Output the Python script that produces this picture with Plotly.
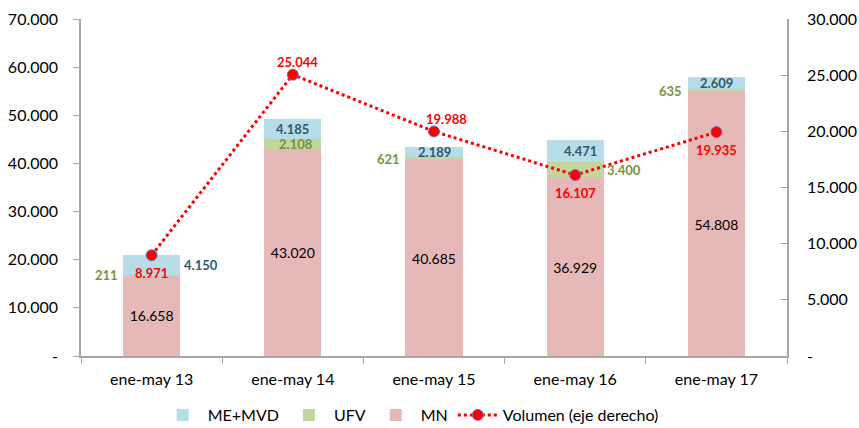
import plotly.graph_objects as go

categories = ["ene-may 13", "ene-may 14", "ene-may 15", "ene-may 16", "ene-may 17"]
mn = [16658, 43020, 40685, 36929, 54808]
ufv = [211, 2108, 621, 3400, 635]
me_mvd = [4150, 4185, 2189, 4471, 2609]
volumen = [8971, 25044, 19988, 16107, 19935]

left_ticks = [0, 10000, 20000, 30000, 40000, 50000, 60000, 70000]
right_ticks = [0, 5000, 10000, 15000, 20000, 25000, 30000]

# label placement styles
ufv_place = ["left", "center", "left", "right", "left"]
me_place = ["right", "center", "center", "center", "center"]
vol_place = ["below", "above", "aboveright", "below", "below"]

FONT = "Lato"
C_ME = "#B7DDE8"
C_UFV = "#C3D69B"
C_MN = "#E6B9B8"
C_ME_TXT = "#31596E"
C_UFV_TXT = "#77933C"
C_VOL = "#FF0000"
AX = "#A6A6A6"


def fmt(v):
    if v == 0:
        return "-"
    return f"{v:,.0f}".replace(",", ".")


fig = go.Figure()
fig.add_trace(go.Bar(
    x=categories, y=mn, name="MN", marker_color=C_MN, width=0.405,
    text=[fmt(v) for v in mn], textposition="inside", insidetextanchor="middle",
    textfont=dict(family=FONT, size=14, color="#000000"), legendrank=3,
    marker_line_width=0,
))
fig.add_trace(go.Bar(
    x=categories, y=ufv, name="UFV", marker_color=C_UFV, width=0.405,
    legendrank=2, marker_line_width=0,
))
fig.add_trace(go.Bar(
    x=categories, y=me_mvd, name="ME+MVD", marker_color=C_ME, width=0.405,
    legendrank=1, marker_line_width=0,
))
fig.add_trace(go.Scatter(
    x=categories, y=volumen, name="Volumen (eje derecho)", yaxis="y2",
    mode="lines+markers",
    line=dict(color=C_VOL, width=3, dash="dot"),
    marker=dict(color=C_VOL, size=11, line=dict(color="#7070C0", width=1)),
    legendrank=4,
))

annotations = []
bold = lambda s: f"<b>{s}</b>"
for i, c in enumerate(categories):
    # UFV
    yv = mn[i] + ufv[i] / 2
    p = ufv_place[i]
    xa, xs = "center", 3
    if p == "left":
        xa, xs = "right", -32
    elif p == "right":
        xa, xs = "left", 30
    annotations.append(dict(x=c, y=yv, xref="x", yref="y", text=bold(fmt(ufv[i])),
                            showarrow=False, xanchor=xa, xshift=xs, yanchor="middle",
                            font=dict(family=FONT, size=13, color=C_UFV_TXT)))
    # ME+MVD
    yv = mn[i] + ufv[i] + me_mvd[i] / 2
    p = me_place[i]
    xa, xs = "center", 0
    if p == "right":
        xa, xs = "left", 30
    if i == 3:
        xs = 5
    annotations.append(dict(x=c, y=yv, xref="x", yref="y", text=bold(fmt(me_mvd[i])),
                            showarrow=False, xanchor=xa, xshift=xs, yanchor="middle",
                            font=dict(family=FONT, size=13, color=C_ME_TXT)))
    # Volumen
    p = vol_place[i]
    ys, xs = -18, 0
    if p == "above":
        ys, xs = 13, 5
    elif p == "aboveright":
        ys, xs = 12, 12
    annotations.append(dict(x=c, y=volumen[i], xref="x", yref="y2", text=bold(fmt(volumen[i])),
                            showarrow=False, xanchor="center", xshift=xs, yshift=ys,
                            yanchor="middle",
                            font=dict(family=FONT, size=13, color=C_VOL)))

fig.update_layout(
    width=859, height=428,
    margin=dict(l=81, r=72, t=19, b=72, autoexpand=False),
    barmode="stack",
    plot_bgcolor="white", paper_bgcolor="white",
    font=dict(family=FONT, size=16, color="#000000"),
    showlegend=True,
    legend=dict(orientation="h", x=0.467, xanchor="center", y=-0.175, yanchor="middle",
                font=dict(family=FONT, size=16), itemwidth=40, traceorder="normal"),
    xaxis=dict(showline=True, linecolor=AX, linewidth=1.5, ticks="outside",
               tickson="boundaries", tickcolor=AX, ticklen=6, showgrid=False,
               automargin=False, ticklabelstandoff=8,
               tickfont=dict(family=FONT, size=16)),
    yaxis=dict(range=[0, 70000], tickvals=left_ticks, ticktext=[fmt(v) for v in left_ticks],
               showline=True, linecolor=AX, linewidth=1.5, ticks="outside", tickcolor=AX,
               ticklen=6, showgrid=False, zeroline=False, ticklabelstandoff=12,
               automargin=False, ticklabeloverflow="allow",
               tickfont=dict(family=FONT, size=16)),
    yaxis2=dict(range=[0, 30000], tickvals=right_ticks, ticktext=[fmt(v) for v in right_ticks],
                overlaying="y", side="right", showline=True, linecolor=AX, linewidth=1.5,
                ticks="inside", tickcolor=AX, ticklen=6, showgrid=False, zeroline=False,
                ticklabelstandoff=15, automargin=False, ticklabeloverflow="allow",
                tickfont=dict(family=FONT, size=16)),
    annotations=annotations,
)

fig.write_html("out.html", config={"displayModeBar": False},
               post_script="document.body.style.margin='0';document.body.style.overflow='hidden';")
